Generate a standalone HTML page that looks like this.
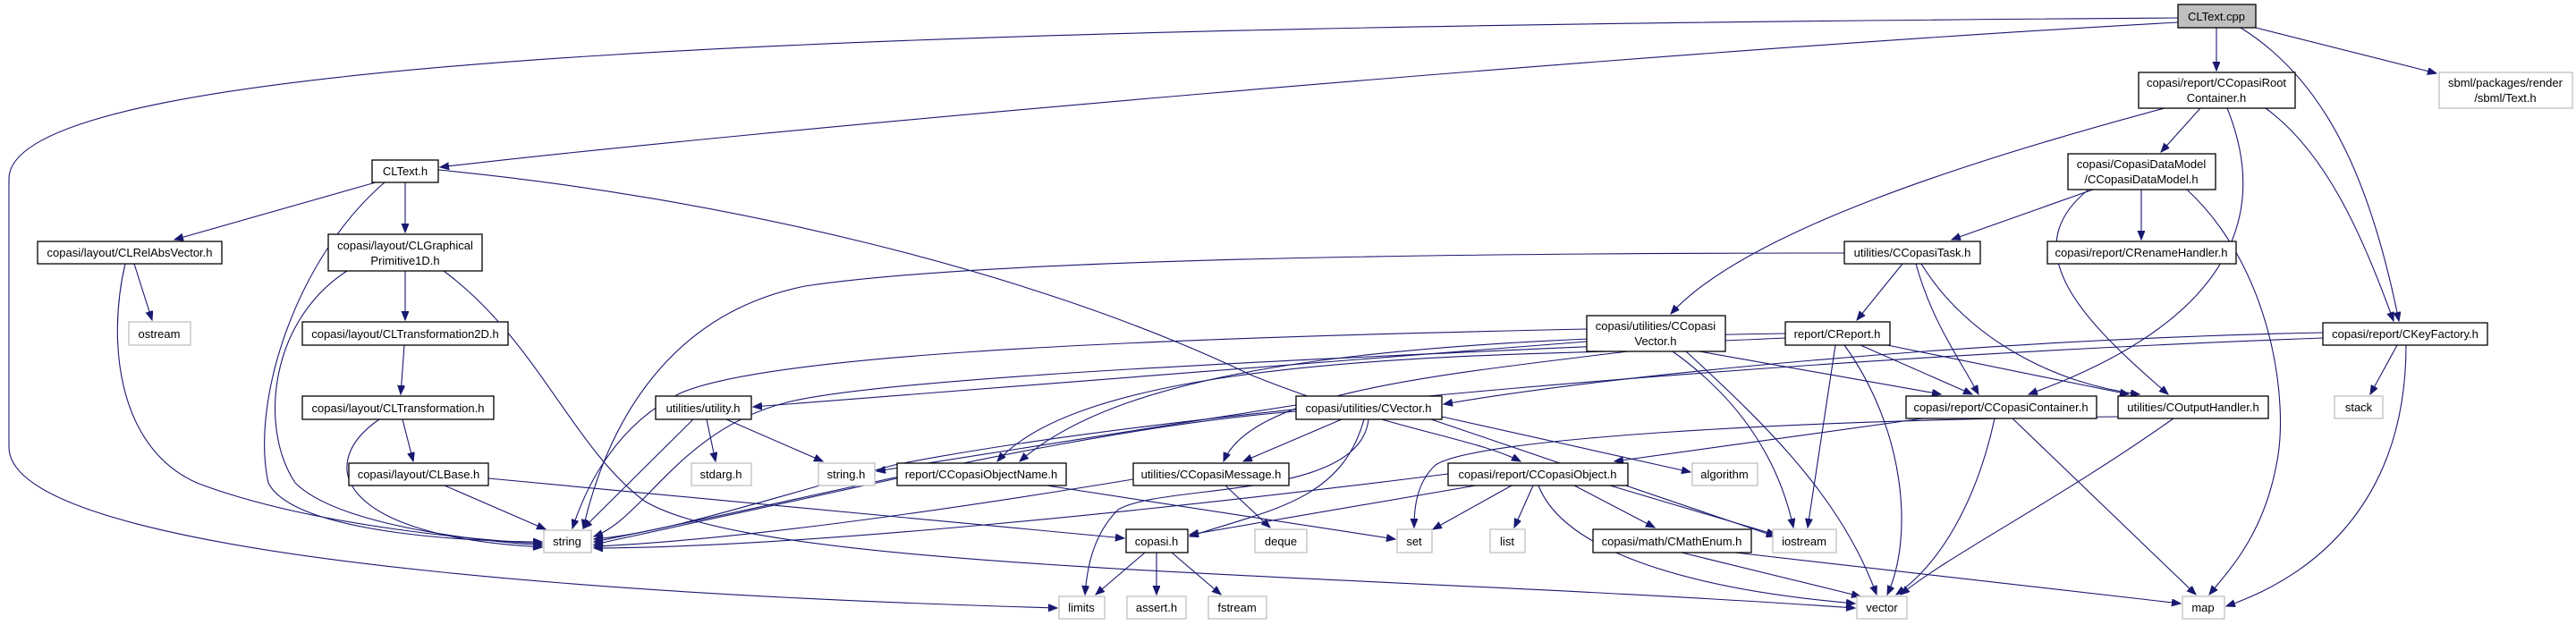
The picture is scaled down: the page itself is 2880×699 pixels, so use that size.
<!DOCTYPE html>
<html><head><meta charset="utf-8"><style>
html,body{margin:0;padding:0;background:#fff;}
svg{display:block;}
text{font-family:"Liberation Sans",sans-serif;font-size:13px;fill:#000;text-anchor:middle;}
.n{fill:#fff;stroke:#000;stroke-width:1.3;}
.g{fill:#fff;stroke:#bfbfbf;stroke-width:1.3;}
.e{fill:none;stroke:#191970;stroke-width:1.1;marker-end:url(#a);}
</style></head><body>
<svg width="2880" height="699" viewBox="0 0 2880 699" xmlns="http://www.w3.org/2000/svg">
<defs><marker id="a" markerUnits="userSpaceOnUse" markerWidth="11" markerHeight="9" refX="10" refY="4" orient="auto"><path d="M0,0 L10,4 L0,8 z" fill="#191970" stroke="#191970"/></marker></defs>

<!-- edges -->
<path class="e" d="M2435,20 C1000,30 10,60 10,200 L10,500 C10,640 900,672 1182,680"/>
<path class="e" d="M2435,25 C1800,60 800,150 492,187"/>
<path class="e" d="M2478,31 L2478,79"/>
<path class="e" d="M2522,31 L2724,82"/>
<path class="e" d="M2505,31 C2600,90 2650,200 2682,359"/>
<path class="e" d="M2533,121 C2600,170 2640,260 2676,359"/>
<path class="e" d="M2460,121 L2416,170"/>
<path class="e" d="M2420,121 C2200,180 1950,260 1868,351"/>
<path class="e" d="M2490,121 C2530,220 2520,350 2268,441"/>
<path class="e" d="M2340,212 L2182,268"/>
<path class="e" d="M2394,212 L2394,268"/>
<path class="e" d="M2335,212 C2250,280 2330,360 2424,441"/>
<path class="e" d="M2445,212 C2540,300 2560,450 2545,520 C2530,600 2490,640 2470,665"/>
<path class="e" d="M2062,283 C1600,283 1100,290 900,320 C750,350 680,470 652,591"/>
<path class="e" d="M2127,295 L2076,358"/>
<path class="e" d="M2142,295 C2160,360 2190,400 2212,441"/>
<path class="e" d="M2148,295 C2200,380 2300,430 2392,441"/>
<path class="e" d="M1996,373 C1500,380 1250,420 1140,516"/>
<path class="e" d="M1996,378 C1500,400 1000,420 880,450 C760,480 720,580 664,600"/>
<path class="e" d="M2080,386 L2205,441"/>
<path class="e" d="M2110,386 L2380,441"/>
<path class="e" d="M2052,386 L2021,590"/>
<path class="e" d="M2062,386 C2130,480 2140,600 2110,665"/>
<path class="e" d="M1774,382 L842,455"/>
<path class="e" d="M1774,368 C1200,380 850,400 760,440 C680,480 650,560 640,591"/>
<path class="e" d="M1800,393 C1500,400 1200,420 1115,516"/>
<path class="e" d="M1820,393 C1600,420 1400,440 1368,516"/>
<path class="e" d="M1900,393 L2170,441"/>
<path class="e" d="M1870,393 C1950,450 1990,520 2005,590"/>
<path class="e" d="M1885,393 C1980,480 2060,560 2098,665"/>
<path class="e" d="M2597,372 C2200,380 1800,420 1614,452"/>
<path class="e" d="M2597,378 C2000,400 1300,460 1000,520 C850,560 750,595 664,603"/>
<path class="e" d="M2680,386 L2650,441"/>
<path class="e" d="M2690,386 C2690,550 2600,640 2489,678"/>
<path class="e" d="M2150,468 L1805,516"/>
<path class="e" d="M2230,468 C2210,560 2170,630 2120,665"/>
<path class="e" d="M2250,468 L2455,665"/>
<path class="e" d="M2430,468 C2300,560 2180,620 2125,665"/>
<path class="e" d="M2368,466 C2000,470 1650,490 1605,520 C1583,540 1581,570 1581,590"/>
<path class="e" d="M1449,453 L980,527"/>
<path class="e" d="M1500,469 L1390,516"/>
<path class="e" d="M1525,469 C1500,560 1420,570 1330,600"/>
<path class="e" d="M1530,469 C1520,560 1300,540 1250,570 C1220,600 1215,640 1213,665"/>
<path class="e" d="M1600,469 L1985,600"/>
<path class="e" d="M1612,466 L1890,528"/>
<path class="e" d="M1449,460 C1200,480 900,560 664,606"/>
<path class="e" d="M1003,535 L664,609"/>
<path class="e" d="M1170,543 L1560,603"/>
<path class="e" d="M1370,543 L1420,590"/>
<path class="e" d="M1267,536 C1000,580 800,605 664,611"/>
<path class="e" d="M1619,530 C1300,570 900,612 664,613"/>
<path class="e" d="M1690,543 L1602,592"/>
<path class="e" d="M1714,543 L1693,590"/>
<path class="e" d="M1650,543 L1330,598"/>
<path class="e" d="M1760,543 L1850,590"/>
<path class="e" d="M1800,543 L1985,598"/>
<path class="e" d="M1720,543 C1750,620 1900,660 2074,675"/>
<path class="e" d="M1880,618 L2080,667"/>
<path class="e" d="M1940,618 L2438,675"/>
<path class="e" d="M1280,618 L1225,665"/>
<path class="e" d="M1293,618 L1293,665"/>
<path class="e" d="M1310,618 L1365,665"/>
<path class="e" d="M420,204 L195,268"/>
<path class="e" d="M453,204 L453,260"/>
<path class="e" d="M430,204 C330,290 280,450 300,540 C330,600 550,606 606,606"/>
<path class="e" d="M490,190 C800,220 1150,300 1400,420 C1550,480 1650,490 1700,516"/>
<path class="e" d="M150,295 L170,358"/>
<path class="e" d="M140,295 C120,380 130,500 220,540 C350,590 550,605 606,608"/>
<path class="e" d="M453,303 L453,358"/>
<path class="e" d="M388,303 C300,360 290,480 330,540 C380,590 550,606 606,610"/>
<path class="e" d="M496,303 C600,380 640,500 720,560 C850,640 1500,640 2074,680"/>
<path class="e" d="M452,386 L448,441"/>
<path class="e" d="M450,469 L462,516"/>
<path class="e" d="M424,469 C350,520 380,600 606,612"/>
<path class="e" d="M497,543 L610,592"/>
<path class="e" d="M546,535 L1257,602"/>
<path class="e" d="M790,469 L800,516"/>
<path class="e" d="M812,469 L920,516"/>
<path class="e" d="M775,469 L652,591"/>

<!-- nodes -->
<rect x="2435" y="5" width="87" height="26" fill="#bfbfbf" stroke="#000" stroke-width="1.3"/><text x="2478" y="23">CLText.cpp</text>
<rect class="n" x="2391" y="81" width="175" height="40"/><text x="2478" y="97">copasi/report/CCopasiRoot</text><text x="2478" y="114">Container.h</text>
<rect class="g" x="2727" y="81" width="149" height="40"/><text x="2801" y="97">sbml/packages/render</text><text x="2801" y="114">/sbml/Text.h</text>
<rect class="n" x="2312" y="172" width="165" height="40"/><text x="2394" y="188">copasi/CopasiDataModel</text><text x="2394" y="205">/CCopasiDataModel.h</text>
<rect class="n" x="2289" y="270" width="211" height="25"/><text x="2394" y="287">copasi/report/CRenameHandler.h</text>
<rect class="n" x="2062" y="270" width="152" height="25"/><text x="2138" y="287">utilities/CCopasiTask.h</text>
<rect class="n" x="416" y="179" width="74" height="25"/><text x="453" y="196">CLText.h</text>
<rect class="n" x="42" y="270" width="206" height="25"/><text x="145" y="287">copasi/layout/CLRelAbsVector.h</text>
<rect class="n" x="367" y="262" width="172" height="41"/><text x="453" y="279">copasi/layout/CLGraphical</text><text x="453" y="296">Primitive1D.h</text>
<rect class="g" x="144" y="360" width="69" height="26"/><text x="178" y="378">ostream</text>
<rect class="n" x="338" y="360" width="230" height="26"/><text x="453" y="378">copasi/layout/CLTransformation2D.h</text>
<rect class="n" x="338" y="443" width="214" height="26"/><text x="445" y="461">copasi/layout/CLTransformation.h</text>
<rect class="n" x="390" y="518" width="156" height="25"/><text x="468" y="535">copasi/layout/CLBase.h</text>
<rect class="n" x="733" y="443" width="107" height="26"/><text x="786" y="461">utilities/utility.h</text>
<rect class="g" x="773" y="518" width="67" height="25"/><text x="806" y="535">stdarg.h</text>
<rect class="g" x="915" y="518" width="63" height="25"/><text x="946" y="535">string.h</text>
<rect class="g" x="608" y="593" width="53" height="25"/><text x="634" y="610">string</text>
<rect class="n" x="1003" y="518" width="189" height="25"/><text x="1097" y="535">report/CCopasiObjectName.h</text>
<rect class="n" x="1267" y="518" width="174" height="25"/><text x="1354" y="535">utilities/CCopasiMessage.h</text>
<rect class="n" x="1619" y="518" width="201" height="25"/><text x="1719" y="535">copasi/report/CCopasiObject.h</text>
<rect class="n" x="1449" y="443" width="163" height="26"/><text x="1530" y="461">copasi/utilities/CVector.h</text>
<rect class="n" x="1774" y="353" width="155" height="40"/><text x="1851" y="369">copasi/utilities/CCopasi</text><text x="1851" y="386">Vector.h</text>
<rect class="n" x="1996" y="360" width="117" height="26"/><text x="2054" y="378">report/CReport.h</text>
<rect class="n" x="2131" y="443" width="213" height="25"/><text x="2237" y="460">copasi/report/CCopasiContainer.h</text>
<rect class="n" x="2368" y="443" width="168" height="25"/><text x="2452" y="460">utilities/COutputHandler.h</text>
<rect class="n" x="2597" y="361" width="184" height="25"/><text x="2689" y="378">copasi/report/CKeyFactory.h</text>
<rect class="g" x="2610" y="443" width="54" height="25"/><text x="2637" y="460">stack</text>
<rect class="g" x="1892" y="518" width="73" height="25"/><text x="1928" y="535">algorithm</text>
<rect class="n" x="1259" y="592" width="69" height="26"/><text x="1293" y="610">copasi.h</text>
<rect class="g" x="1403" y="592" width="58" height="26"/><text x="1432" y="610">deque</text>
<rect class="g" x="1562" y="592" width="39" height="26"/><text x="1581" y="610">set</text>
<rect class="g" x="1666" y="592" width="39" height="26"/><text x="1685" y="610">list</text>
<rect class="n" x="1781" y="592" width="177" height="26"/><text x="1869" y="610">copasi/math/CMathEnum.h</text>
<rect class="g" x="1982" y="592" width="71" height="26"/><text x="2017" y="610">iostream</text>
<rect class="g" x="1184" y="667" width="51" height="25"/><text x="1209" y="684">limits</text>
<rect class="g" x="1260" y="667" width="66" height="25"/><text x="1293" y="684">assert.h</text>
<rect class="g" x="1351" y="667" width="65" height="25"/><text x="1383" y="684">fstream</text>
<rect class="g" x="2076" y="667" width="56" height="25"/><text x="2104" y="684">vector</text>
<rect class="g" x="2440" y="667" width="47" height="25"/><text x="2463" y="684">map</text>
</svg>
</body></html>
